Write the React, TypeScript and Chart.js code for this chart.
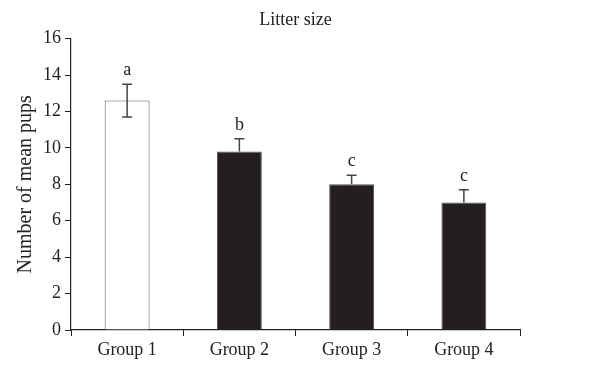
import React, { useEffect, useRef } from "react";
import { Chart, registerables } from "chart.js";

Chart.register(...registerables);

const categories = ["Group 1", "Group 2", "Group 3", "Group 4"];
const meanPups = [12.6, 9.8, 8.0, 7.0];
const errors = [0.9, 0.7, 0.5, 0.7];
const letters = ["a", "b", "c", "c"];
const yTicks = [0, 2, 4, 6, 8, 10, 12, 14, 16];
const barColors = ["#ffffff", "#231f20", "#231f20", "#231f20"];

const FONT = "'Liberation Serif', 'Times New Roman', serif";

const errorPlugin = {
  id: "errorBars",
  afterDatasetsDraw(chart: any) {
    const ctx = chart.ctx;
    const meta = chart.getDatasetMeta(0);
    const y = chart.scales.y;
    ctx.save();
    meta.data.forEach((bar: any, i: number) => {
      const x = bar.x;
      const mid = y.getPixelForValue(meanPups[i]);
      const top = y.getPixelForValue(meanPups[i] + errors[i]);
      const bot = y.getPixelForValue(meanPups[i] - errors[i]);
      const light = barColors[i] === "#ffffff";
      ctx.strokeStyle = "#444";
      ctx.lineWidth = 1.5;
      ctx.beginPath();
      ctx.moveTo(x, top);
      ctx.lineTo(x, light ? bot : mid);
      ctx.moveTo(x - 5, top);
      ctx.lineTo(x + 5, top);
      if (light) {
        ctx.moveTo(x - 5, bot);
        ctx.lineTo(x + 5, bot);
      }
      ctx.stroke();
      ctx.fillStyle = "#222";
      ctx.font = `18px ${FONT}`;
      ctx.textAlign = "center";
      ctx.textBaseline = "alphabetic";
      ctx.fillText(letters[i], x, top - 9);
    });
    ctx.restore();
  },
};

export default function App() {
  const ref = useRef<HTMLCanvasElement>(null);
  useEffect(() => {
    document.body.style.margin = "0";
    const chart = new Chart(ref.current!, {
      type: "bar",
      data: {
        labels: categories,
        datasets: [
          {
            data: meanPups,
            backgroundColor: barColors,
            borderColor: "#555",
            borderWidth: 1,
            categoryPercentage: 1,
            barPercentage: 0.4,
          },
        ],
      },
      options: {
        animation: false,
        responsive: false,
        layout: { padding: { left: 0, right: 88, top: 0, bottom: 0 } },
        plugins: {
          legend: { display: false },
          tooltip: { enabled: false },
          title: {
            display: true,
            text: "Litter size",
            fullSize: false,
            color: "#222",
            font: { family: FONT, size: 18, weight: "normal" },
            padding: { top: 9, bottom: 8 },
          },
        },
        scales: {
          x: {
            grid: {
              display: true,
              drawOnChartArea: false,
              drawTicks: true,
              tickLength: 6,
              tickColor: "#222",
              offset: true,
            },
            border: { display: true, color: "#222", width: 1.2 },
            ticks: {
              color: "#222",
              font: { family: FONT, size: 18 },
              padding: 3,
            },
            afterFit: (s: any) => {
              s.height = 35;
            },
          },
          y: {
            min: 0,
            max: 16,
            afterBuildTicks: (s: any) => {
              s.ticks = yTicks.map((v) => ({ value: v }));
            },
            grid: {
              display: true,
              drawOnChartArea: false,
              drawTicks: true,
              tickLength: 6,
              tickColor: "#222",
            },
            border: { display: true, color: "#222", width: 1.2 },
            ticks: {
              color: "#222",
              font: { family: FONT, size: 18 },
              padding: 4,
            },
            title: {
              display: true,
              text: "Number of mean pups",
              color: "#222",
              font: { family: FONT, size: 20 },
              padding: { top: 14, bottom: 0 },
            },
            afterFit: (s: any) => {
              s.width = 71;
            },
          },
        },
      },
      plugins: [errorPlugin],
    });
    return () => chart.destroy();
  }, []);
  return (
    <div style={{ width: 608, height: 365 }}>
      <canvas ref={ref} width={608} height={365} />
    </div>
  );
}
